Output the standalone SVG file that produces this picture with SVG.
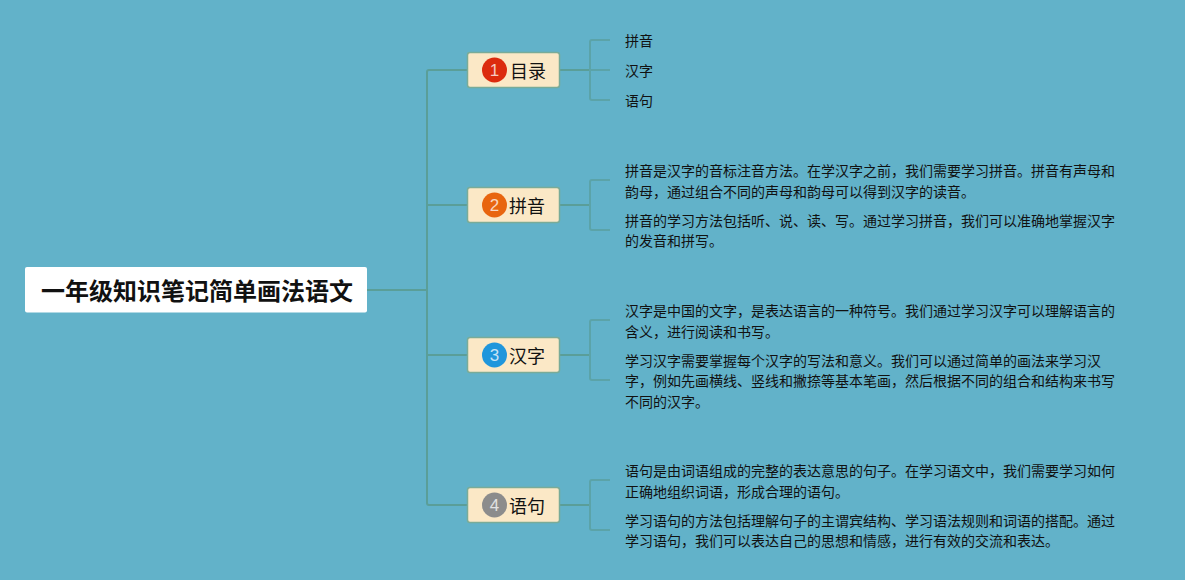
<svg xmlns="http://www.w3.org/2000/svg" width="1185" height="580" viewBox="0 0 1185 580">
<style>
text{font-family:"Noto Sans CJK SC","Noto Sans",sans-serif;fill:#111}
.t{font-size:14px}
.b{font-size:18px}
.n{font-size:17px;fill:#fff;fill-opacity:.75;text-anchor:middle;font-family:"Liberation Sans",sans-serif}
.box{fill:#fbe8c6;stroke:#79ab98;stroke-width:1.500}
.c{fill:none;stroke:#5a9e98;stroke-width:2}
.d{fill:none;stroke:#5ba3a8;stroke-width:2}
</style>
<rect width="1185" height="580" fill="#62b2c9"/>
<g id="connectors">
<path class="c" d="M367 290H427M467 70H429Q427 70 427 72V503Q427 505 429 505H467M427 205H467M427 355H467"/>
<path class="c" d="M560 70H590M560 205H590M560 355H590M560 505H590"/>
<path class="d" d="M610 40H592Q590 40 590 42V98Q590 100 592 100H610M590 70H610"/>
<path class="d" d="M610 180H592Q590 180 590 182V228Q590 230 592 230H610"/>
<path class="d" d="M610 320H592Q590 320 590 322V378Q590 380 592 380H610"/>
<path class="d" d="M610 480H592Q590 480 590 482V528Q590 530 592 530H610"/>
</g>
<g id="root"><rect x="25" y="267" width="342" height="45.500" rx="2" fill="#fff"/>
<text x="41" y="300" style="font-size:24px;font-weight:700">一年级知识笔记简单画法语文</text></g>
<g id="n1"><rect class="box" x="467.500" y="52.500" width="92" height="35" rx="2.500"/><circle cx="494.500" cy="70" r="12.500" fill="#dc2b0e"/><text class="n" x="494.500" y="76">1</text><text class="b" x="510" y="78">目录</text></g>
<g id="n2"><rect class="box" x="467.500" y="187.500" width="92" height="35" rx="2.500"/><circle cx="494.500" cy="205" r="12.500" fill="#e8650f"/><text class="n" x="494.500" y="211">2</text><text class="b" x="509" y="213">拼音</text></g>
<g id="n3"><rect class="box" x="467.500" y="337.500" width="92" height="35" rx="2.500"/><circle cx="494.500" cy="355" r="12.500" fill="#1f96dc"/><text class="n" x="494.500" y="361">3</text><text class="b" x="509" y="363">汉字</text></g>
<g id="n4"><rect class="box" x="467.500" y="487.500" width="92" height="35" rx="2.500"/><circle cx="494.500" cy="505" r="12.500" fill="#8c8c8c"/><text class="n" x="494.500" y="511">4</text><text class="b" x="509" y="513">语句</text></g>
<g id="l1"><text class="t" x="625" y="46">拼音</text></g>
<g id="l2"><text class="t" x="625" y="76">汉字</text></g>
<g id="l3"><text class="t" x="625" y="106">语句</text></g>
<g id="p1"><text class="t" x="625" y="176">拼音是汉字的音标注音方法。在学汉字之前，我们需要学习拼音。拼音有声母和</text><text class="t" x="625" y="197">韵母，通过组合不同的声母和韵母可以得到汉字的读音。</text></g>
<g id="p2"><text class="t" x="625" y="226">拼音的学习方法包括听、说、读、写。通过学习拼音，我们可以准确地掌握汉字</text><text class="t" x="625" y="246">的发音和拼写。</text></g>
<g id="p3"><text class="t" x="625" y="316">汉字是中国的文字，是表达语言的一种符号。我们通过学习汉字可以理解语言的</text><text class="t" x="625" y="337">含义，进行阅读和书写。</text></g>
<g id="p4"><text class="t" x="625" y="366">学习汉字需要掌握每个汉字的写法和意义。我们可以通过简单的画法来学习汉</text><text class="t" x="625" y="386">字，例如先画横线、竖线和撇捺等基本笔画，然后根据不同的组合和结构来书写</text><text class="t" x="625" y="407">不同的汉字。</text></g>
<g id="p5"><text class="t" x="625" y="476">语句是由词语组成的完整的表达意思的句子。在学习语文中，我们需要学习如何</text><text class="t" x="625" y="497">正确地组织词语，形成合理的语句。</text></g>
<g id="p6"><text class="t" x="625" y="526">学习语句的方法包括理解句子的主谓宾结构、学习语法规则和词语的搭配。通过</text><text class="t" x="625" y="546">学习语句，我们可以表达自己的思想和情感，进行有效的交流和表达。</text></g>
</svg>
